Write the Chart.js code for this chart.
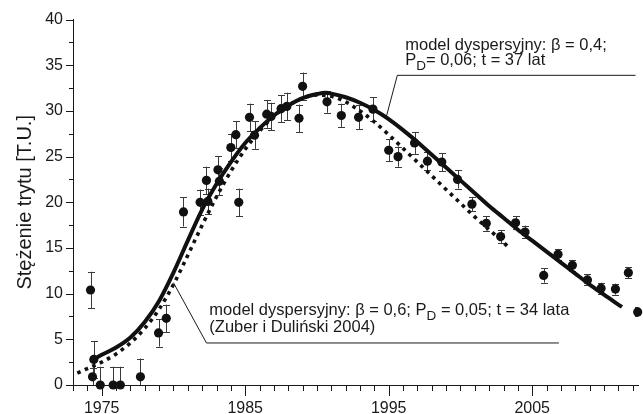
<!DOCTYPE html>
<html><head><meta charset="utf-8">
<script src="https://cdn.jsdelivr.net/npm/chart.js@4.4.1/dist/chart.umd.min.js"></script>
<style>html,body{margin:0;padding:0;background:#fff;overflow:hidden}canvas{display:block}</style>
</head><body>
<canvas id="c" width="643" height="414"></canvas>
<script>
// ---- data ----
const measYears  = [1974.22,1974.36,1974.45,1974.9,1975.8,1976.3,1977.7,1978.96,1979.5,1980.7,1981.86,1982.4,1982.3,1983.1,1983.2,1984.0,1984.35,1984.55,1985.3,1985.65,1986.5,1986.8,1987.5,1987.9,1988.75,1989.0,1990.7,1991.7,1992.9,1993.9,1995.0,1995.65,1996.8,1997.7,1998.7,1999.8,2000.8,2001.8,2002.8,2003.84,2004.5,2005.8,2006.8,2007.8,2008.85,2009.8,2010.8,2011.7,2012.35];
const measValues = [10.4,0.9,2.8,0,0,0,0.9,5.7,7.3,18.95,20.0,20.1,22.4,23.55,22.3,26.0,27.4,20.0,29.3,27.35,29.65,29.4,30.25,30.5,29.2,32.7,31.0,29.5,29.3,30.2,25.7,25.0,26.5,24.5,24.4,22.5,19.8,17.7,16.25,17.75,16.75,12.0,14.3,13.1,11.5,10.6,10.5,12.3,8.0];
const measErrors = [2,1,2,2,2,2,2,1.5,1.5,1.6,1.4,1.4,1.5,1.5,1.5,1.5,1.5,1.5,1.5,1.5,1.5,1.5,1.5,1.5,1.5,1.5,1.2,1.3,1.3,1.3,1.2,1.1,1.2,1.0,1.0,1.0,0.8,0.8,0.7,0.7,0.7,0.8,0.6,0.6,0.6,0.6,0.6,0.6,0.5];

// model beta = 0.4 (solid)
const solidYears  = [1974.4,1975,1976,1977,1978,1979,1980,1981,1982,1983,1984,1985,1986,1987,1988,1989,1990,1990.6,1991,1992,1993,1994,1995,1996,1997,1998,1999,2000,2001,2002,2003,2004,2005,2006,2007,2008,2009,2010,2011,2011.26];
const solidValues = [2.8,3.3,4.1,5.2,6.9,9.2,12.3,15.8,19.2,22.0,24.4,26.5,28.1,29.5,30.6,31.4,31.85,32.0,31.9,31.5,30.9,30.1,29.1,27.9,26.6,25.2,23.8,22.4,21.0,19.6,18.3,17.0,15.8,14.6,13.4,12.2,11.0,9.9,8.8,8.55];

// model beta = 0.6 (dotted)
const dotYears  = [1973.3,1974,1975,1976,1977,1978,1979,1980,1981,1982,1983,1984,1985,1986,1987,1988,1989,1990,1991,1992,1993,1994,1995,1996,1997,1998,1999,2000,2001,2002,2003,2003.4];
const dotValues = [1.3,1.8,2.5,3.4,4.6,6.2,8.3,11.0,14.2,17.5,20.6,23.4,25.8,27.8,29.4,30.6,31.4,31.75,31.6,31.0,30.0,28.8,27.4,25.9,24.4,22.9,21.4,19.9,18.4,17.0,15.6,15.0];

const xLabelYears = [1975,1985,1995,2005];
const yTickValues = [0,5,10,15,20,25,30,35,40];
const yAxisTitle = 'Stężenie trytu [T.U.]';
const upperNoteLine1 = 'model dyspersyjny: β = 0,4;';
const upperNoteLine2 = [['P',false],['D',true],['= 0,06; t = 37 lat',false]];
const lowerNoteLine1 = [['model dyspersyjny: β = 0,6; P',false],['D',true],[' = 0,05; t = 34 lata',false]];
const lowerNoteLine2 = '(Zuber i Duliński 2004)';

const FONT = '"Liberation Sans", Arial, sans-serif';
const INK = '#1a1a1a';

const toXY = (xs, ys) => xs.map((x, i) => ({x: x, y: ys[i]}));

// ---- plugins ----
const errorBars = {
  id: 'errorBars',
  beforeDatasetsDraw(chart) {
    const {ctx, chartArea: a, scales: {x, y}} = chart;
    ctx.save();
    ctx.beginPath();
    ctx.rect(a.left, 0, a.right - a.left, a.bottom);
    ctx.clip();
    ctx.strokeStyle = '#3a3a3a';
    ctx.lineWidth = 1;
    measYears.forEach((yr, i) => {
      const px = Math.round(x.getPixelForValue(yr)) + 0.5;
      const top = y.getPixelForValue(measValues[i] + measErrors[i]);
      const bot = y.getPixelForValue(measValues[i] - measErrors[i]);
      ctx.beginPath();
      ctx.moveTo(px, top); ctx.lineTo(px, bot);
      ctx.moveTo(px - 3.5, Math.round(top) + 0.5); ctx.lineTo(px + 3.5, Math.round(top) + 0.5);
      ctx.moveTo(px - 3.5, Math.round(bot) + 0.5); ctx.lineTo(px + 3.5, Math.round(bot) + 0.5);
      ctx.stroke();
    });
    ctx.restore();
  }
};

function drawRich(ctx, x, y, parts) {
  let cx = x;
  parts.forEach(([t, sub]) => {
    ctx.font = (sub ? '13.5px ' : '16.5px ') + FONT;
    ctx.fillText(t, cx, sub ? y + 5 : y);
    cx += ctx.measureText(t).width;
  });
}

const decorations = {
  id: 'decorations',
  afterDraw(chart) {
    const {ctx, chartArea: a, scales: {x, y}} = chart;
    ctx.save();
    ctx.strokeStyle = INK;
    ctx.lineWidth = 1;
    // x-axis ticks (every year, longer at labelled years)
    for (let yr = Math.ceil(x.min); yr <= x.max; yr++) {
      const px = Math.round(x.getPixelForValue(yr)) + 0.5;
      const len = xLabelYears.includes(yr) ? 11 : 6;
      ctx.beginPath(); ctx.moveTo(px, a.bottom); ctx.lineTo(px, a.bottom + len); ctx.stroke();
    }
    // y-axis ticks (every 2.5, longer at labelled values)
    for (let v = y.min; v <= y.max; v += 2.5) {
      const py = Math.round(y.getPixelForValue(v)) + 0.5;
      const len = yTickValues.includes(v) ? 7 : 4;
      ctx.beginPath(); ctx.moveTo(a.left - len, py); ctx.lineTo(a.left, py); ctx.stroke();
    }
    // upper annotation
    ctx.fillStyle = INK;
    ctx.textBaseline = 'alphabetic';
    ctx.font = '16.5px ' + FONT;
    const ux = x.getPixelForValue(1996.15);
    ctx.fillText(upperNoteLine1, ux, y.getPixelForValue(36.7));
    drawRich(ctx, ux, y.getPixelForValue(35.0), upperNoteLine2);
    ctx.beginPath();
    ctx.moveTo(x.getPixelForValue(1994.83), y.getPixelForValue(29.35));
    ctx.lineTo(x.getPixelForValue(1995.6), y.getPixelForValue(33.9));
    ctx.lineTo(x.getPixelForValue(2012.2), y.getPixelForValue(33.9));
    ctx.stroke();
    // lower annotation
    const lx = x.getPixelForValue(1982.5);
    drawRich(ctx, lx, y.getPixelForValue(7.7), lowerNoteLine1);
    ctx.font = '16.5px ' + FONT;
    ctx.fillText(lowerNoteLine2, lx, y.getPixelForValue(5.8));
    ctx.beginPath();
    ctx.moveTo(x.getPixelForValue(1980.0), y.getPixelForValue(11.2));
    ctx.lineTo(x.getPixelForValue(1982.3), y.getPixelForValue(4.6));
    ctx.lineTo(x.getPixelForValue(2006.86), y.getPixelForValue(4.6));
    ctx.stroke();
    ctx.restore();
  }
};

new Chart(document.getElementById('c'), {
  type: 'scatter',
  data: {
    datasets: [
      { type: 'line', data: toXY(solidYears, solidValues), borderColor: '#111', borderWidth: 4,
        pointRadius: 0, cubicInterpolationMode: 'monotone', fill: false, order: 2 },
      { type: 'line', data: toXY(dotYears, dotValues), borderColor: '#111', borderWidth: 3.6,
        borderDash: [3.6, 4.6], pointRadius: 0, cubicInterpolationMode: 'monotone', fill: false, order: 3 },
      { type: 'scatter', data: toXY(measYears, measValues), backgroundColor: '#111', borderColor: '#111',
        borderWidth: 0, pointRadius: 4.6, clip: false, order: 1 }
    ]
  },
  options: {
    responsive: false,
    animation: false,
    events: [],
    layout: { padding: { top: 17, right: 0, bottom: 0, left: 0 } },
    plugins: { legend: { display: false }, tooltip: { enabled: false } },
    scales: {
      x: {
        type: 'linear', min: 1973, max: 2012.4,
        grid: { display: false, drawTicks: false },
        border: { display: true, color: INK, width: 1 },
        afterBuildTicks: s => { s.ticks = xLabelYears.map(v => ({ value: v })); },
        afterFit: s => { s.height = 29; },
        ticks: { color: INK, font: { family: FONT, size: 16 }, padding: 14, maxRotation: 0, autoSkip: false,
                 callback: v => String(v) }
      },
      y: {
        min: 0, max: 40,
        grid: { display: false, drawTicks: false },
        border: { display: true, color: INK, width: 1 },
        afterBuildTicks: s => { s.ticks = yTickValues.map(v => ({ value: v })); },
        afterFit: s => { s.width = 73; },
        ticks: { color: INK, font: { family: FONT, size: 16 }, padding: 10 },
        title: { display: true, text: yAxisTitle, color: INK, font: { family: FONT, size: 20, lineHeight: 1.2 },
                 padding: { top: 13, bottom: 0 } }
      }
    }
  },
  plugins: [errorBars, decorations]
});
</script>
</body></html>
